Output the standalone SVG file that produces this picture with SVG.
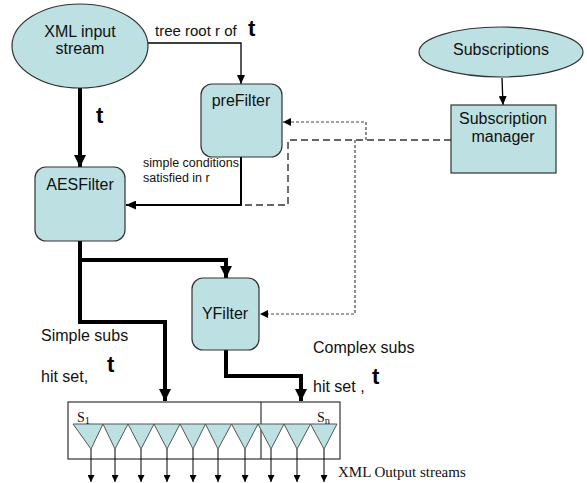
<svg xmlns="http://www.w3.org/2000/svg" width="587" height="483" viewBox="0 0 587 483">
<defs>
<style>
.node{fill:#bde0e3;stroke:#333;stroke-width:1.2}
.lbl{font-family:"Liberation Sans",Arial,sans-serif;font-size:16px;fill:#111}
.c{text-anchor:middle}
.bt{font-family:"Liberation Sans",Arial,sans-serif;font-size:22px;font-weight:bold;fill:#000}
.ser{font-family:"Liberation Serif","Times New Roman",serif;fill:#111}
.thick{fill:none;stroke:#000;stroke-width:4}
.med{fill:none;stroke:#000;stroke-width:2}
.thin{fill:none;stroke:#000;stroke-width:1.3}
.dash{fill:none;stroke:#333;stroke-width:1.4;stroke-dasharray:7 4}
.fdash{fill:none;stroke:#444;stroke-width:1.2;stroke-dasharray:3 2}
.out{fill:none;stroke:#000;stroke-width:1}
.tri{fill:#bde0e3;stroke:#555;stroke-width:1}
</style>
<marker id="aThick" markerUnits="userSpaceOnUse" markerWidth="12" markerHeight="12" refX="12" refY="6" orient="auto"><path d="M0,0 L12,6 L0,12 z" fill="#000"/></marker>
<marker id="aMed" markerUnits="userSpaceOnUse" markerWidth="10" markerHeight="9" refX="10" refY="4.5" orient="auto"><path d="M0,0 L10,4.5 L0,9 z" fill="#000"/></marker>
<marker id="aThin" markerUnits="userSpaceOnUse" markerWidth="9" markerHeight="8" refX="9" refY="4" orient="auto"><path d="M0,0 L9,4 L0,8 z" fill="#000"/></marker>
<marker id="aDash" markerUnits="userSpaceOnUse" markerWidth="8" markerHeight="8" refX="8" refY="4" orient="auto"><path d="M0,0 L8,4 L0,8 z" fill="#000"/></marker>
<marker id="aOut" markerUnits="userSpaceOnUse" markerWidth="7" markerHeight="7" refX="7" refY="3.5" orient="auto"><path d="M0,0 L7,3.5 L0,7 z" fill="#000"/></marker>
</defs>

<g id="connectors">
<path class="thin" d="M148,43 H241 V84" marker-end="url(#aThin)"/>
<path class="thick" d="M80,88 V167" marker-end="url(#aThick)"/>
<path class="med" d="M241,157 V205 H126" marker-end="url(#aMed)"/>
<path class="dash" d="M451,140 H288 V205 H243"/>
<path class="fdash" d="M366,140 V122 H283" marker-end="url(#aDash)"/>
<path class="fdash" d="M355,140 V314 H260" marker-end="url(#aDash)"/>
<path class="thin" d="M502,78 L503,105" marker-end="url(#aThin)"/>
<path class="thick" d="M80,241 V260 H226 V278" marker-end="url(#aThick)"/>
<path class="thick" d="M80,258 V322 H165 V401" marker-end="url(#aThick)"/>
<path class="thick" d="M226,350 V376 H301 V401" marker-end="url(#aThick)"/>
</g>

<g id="xml-input-stream">
<ellipse class="node" cx="80" cy="46" rx="68" ry="42"/>
<text class="lbl c" x="80" y="37">XML input</text>
<text class="lbl c" x="80" y="54">stream</text>
</g>

<g id="prefilter">
<rect class="node" x="201" y="84" width="81" height="73" rx="11"/>
<text class="lbl c" x="241" y="106">preFilter</text>
</g>

<g id="aesfilter">
<rect class="node" x="35" y="167" width="90" height="74" rx="11"/>
<text class="lbl c" x="80" y="190">AESFilter</text>
</g>

<g id="yfilter">
<rect class="node" x="192" y="278" width="67" height="72" rx="11"/>
<text class="lbl c" x="225" y="319">YFilter</text>
</g>

<g id="subscriptions">
<ellipse class="node" cx="501" cy="52" rx="82" ry="25"/>
<text class="lbl c" x="501" y="55">Subscriptions</text>
</g>

<g id="subscription-manager">
<rect class="node" x="451" y="105" width="105" height="68"/>
<text class="lbl c" x="503" y="124">Subscription</text>
<text class="lbl c" x="503" y="142">manager</text>
</g>

<g id="labels">
<text class="lbl" x="155" y="36" style="font-size:15px">tree root r of</text>
<text class="bt" x="248" y="36">t</text>
<text class="bt" x="96" y="123">t</text>
<text class="lbl" x="143" y="167" style="font-size:12.5px">simple conditions</text>
<text class="lbl" x="143" y="182" style="font-size:12.5px">satisfied in r</text>
<text class="lbl" x="41" y="341">Simple subs</text>
<text class="bt" x="107" y="372">t</text>
<text class="lbl" x="41" y="382">hit set,</text>
<text class="lbl" x="313" y="353">Complex subs</text>
<text class="lbl" x="313" y="392">hit set ,</text>
<text class="bt" x="372" y="384">t</text>
</g>

<g id="output-box">
<rect x="68" y="402" width="272" height="57" fill="#fff" stroke="#333" stroke-width="1.2"/>
<line x1="261" y1="402" x2="261" y2="459" stroke="#333" stroke-width="1.2"/>
<path class="tri" d="M73,424 H103 L91,449 z"/>
<path class="tri" d="M103,424 H128 L115,449 z"/>
<path class="tri" d="M128,424 H154 L141,449 z"/>
<path class="tri" d="M154,424 H180 L167,449 z"/>
<path class="tri" d="M180,424 H205.5 L193,449 z"/>
<path class="tri" d="M205.5,424 H231.5 L218,449 z"/>
<path class="tri" d="M231.5,424 H258 L245,449 z"/>
<path class="tri" d="M258,424 H284 L271,449 z"/>
<path class="tri" d="M284,424 H310.5 L297,449 z"/>
<path class="tri" d="M310.5,424 H337 L324,449 z"/>
<text class="ser" x="77" y="422" font-size="14">S<tspan font-size="10.5" dy="2">1</tspan></text>
<text class="ser" x="317" y="422" font-size="14">S<tspan font-size="10.5" dy="2">n</tspan></text>
<g class="outs">
<path class="out" d="M91,449 V482" marker-end="url(#aOut)"/>
<path class="out" d="M115,449 V482" marker-end="url(#aOut)"/>
<path class="out" d="M141,449 V482" marker-end="url(#aOut)"/>
<path class="out" d="M167,449 V482" marker-end="url(#aOut)"/>
<path class="out" d="M193,449 V482" marker-end="url(#aOut)"/>
<path class="out" d="M218,449 V482" marker-end="url(#aOut)"/>
<path class="out" d="M245,449 V482" marker-end="url(#aOut)"/>
<path class="out" d="M271,449 V482" marker-end="url(#aOut)"/>
<path class="out" d="M297,449 V482" marker-end="url(#aOut)"/>
<path class="out" d="M324,449 V482" marker-end="url(#aOut)"/>
</g>
<text class="ser" x="338" y="477" font-size="15">XML Output streams</text>
</g>
</svg>
